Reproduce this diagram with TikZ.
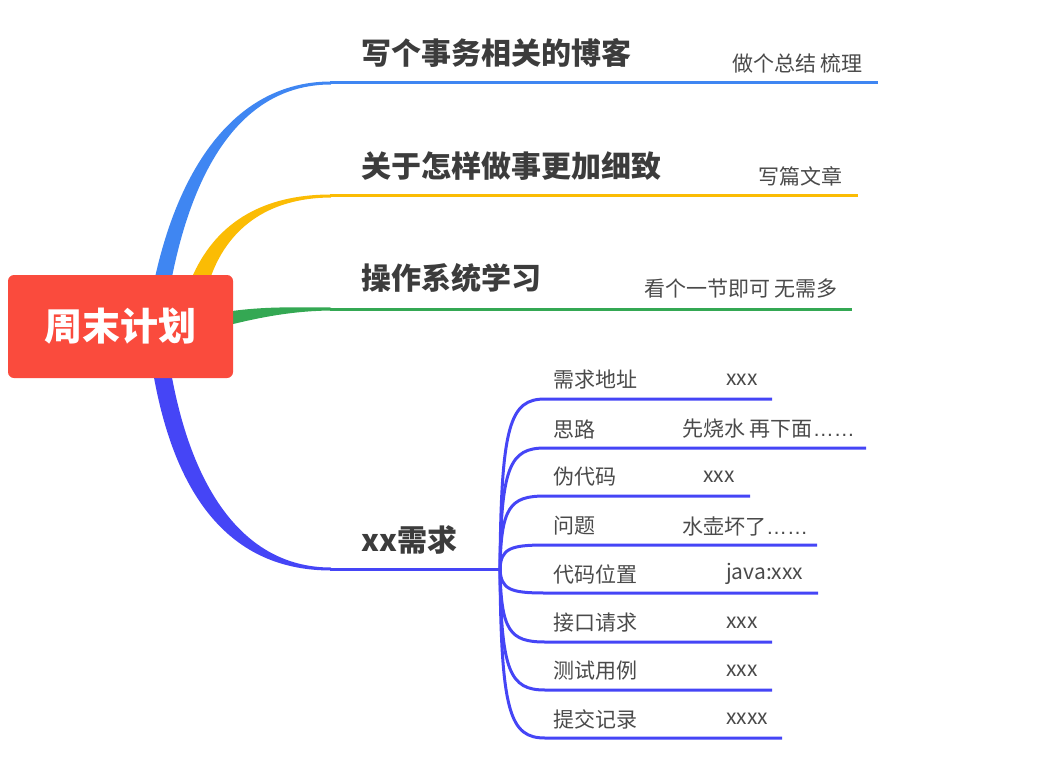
\documentclass[tikz,border=0pt]{standalone}
\usepackage{fontspec}
\setmainfont{Noto Sans CJK SC}
\newfontfamily\latf{Liberation Sans}
\definecolor{cblue}{HTML}{3F86F2}
\definecolor{cyel}{HTML}{FBBC04}
\definecolor{cgreen}{HTML}{34A853}
\definecolor{cpur}{HTML}{4545F6}
\definecolor{croot}{HTML}{FA4B3D}
\definecolor{ctitle}{HTML}{3C3C3C}
\definecolor{clab}{HTML}{4A4A4A}
\tikzset{
  rootbox/.style={fill=croot, rounded corners=6pt, minimum width=225pt, minimum height=103pt, text=white, font=\bfseries\fontsize{38}{40}\selectfont, inner sep=0pt},
  title/.style={anchor=west, inner sep=0pt, text=ctitle, font=\bfseries\fontsize{30}{33}\selectfont},
  lab/.style={inner sep=0pt, text=clab, font=\fontsize{21}{24}\selectfont},
  pline/.style={draw=cpur, line width=3pt},
}
\begin{document}
\begin{tikzpicture}[x=1pt,y=-1pt]
\useasboundingbox (0,0) rectangle (1048,767);
% named points
\coordinate (e1) at (330,83);
\coordinate (e2) at (330,196);
\coordinate (e3) at (330,309);
\coordinate (e4) at (330,569);
\coordinate (f1) at (878,83);
\coordinate (f2) at (858,196);
\coordinate (f3) at (852,309);
\coordinate (j) at (500,569);
% tapered branches
\fill[cblue] (154,282) .. controls (180,160) and (240,81.5) .. (331,81.5) -- (331,84.5) .. controls (245,84.5) and (194,162) .. (171,282) -- cycle;
\fill[cyel] (190,282) .. controls (210,232) and (252,194.5) .. (331,194.5) -- (331,197.5) .. controls (258,198) and (223,238) .. (209,282) -- cycle;
\fill[cgreen] (225,312) .. controls (265,306) and (295,307.5) .. (331,307.5) -- (331,310.5) .. controls (295,311) and (265,316) .. (225,326) -- cycle;
\fill[cpur] (153,372) .. controls (176,505) and (236,570.5) .. (331,570.5) -- (331,567.5) .. controls (248,567.5) and (193,496) .. (171,372) -- cycle;
\draw[cblue, line width=3pt] (e1) -- (f1);
\draw[cyel, line width=3pt] (e2) -- (f2);
\draw[cgreen, line width=3pt] (e3) -- (f3);
\draw[pline] (e4) -- (j);
% root
\node[rootbox] (root) at (120.5,326.5) {周末计划};
% titles
\node[title] (t1) at (361,53) {写个事务相关的博客};
\node[title] (t2) at (361,166) {关于怎样做事更加细致};
\node[title] (t3) at (361,278) {操作系统学习};
\node[title] (t4) at (361,540) {xx需求};
% labels
\node[lab, anchor=east] (l1) at (863,63) {做个总结 梳理};
\node[lab, anchor=east] (l2) at (843,176) {写篇文章};
\node[lab, anchor=east] (l3) at (838,289) {看个一节即可 无需多};
% sub-branches
\foreach \n/\y/\p/\e/\vx/\a/\b in {
  1/399/424.5/772/726/{需求地址}/{xxx},
  2/448/466.2/866/682/{思路}/{先烧水 再下面{\latf ……}},
  3/496/507/750/703/{伪代码}/{xxx},
  4/545/548.6/817/682/{问题}/{水壶坏了{\latf ……}},
  5/593/589.4/818/726/{代码位置}/{java:xxx},
  6/642/631/772/726/{接口请求}/{xxx},
  7/690/671.9/772/726/{测试用例}/{xxx},
  8/738/712.6/782/726/{提交记录}/{xxxx}}{
  \coordinate (k\n) at (545,\y);
  \coordinate (m\n) at (\e,\y);
  \draw[pline] (j) .. controls (501,\p) and (510,\y) .. (k\n) -- (m\n);
  \node[lab, anchor=west] (s\n) at (553,\y-19) {\a};
  \node[lab, anchor=west] (v\n) at (\vx,\y-19) {\b};
}
\end{tikzpicture}
\end{document}
